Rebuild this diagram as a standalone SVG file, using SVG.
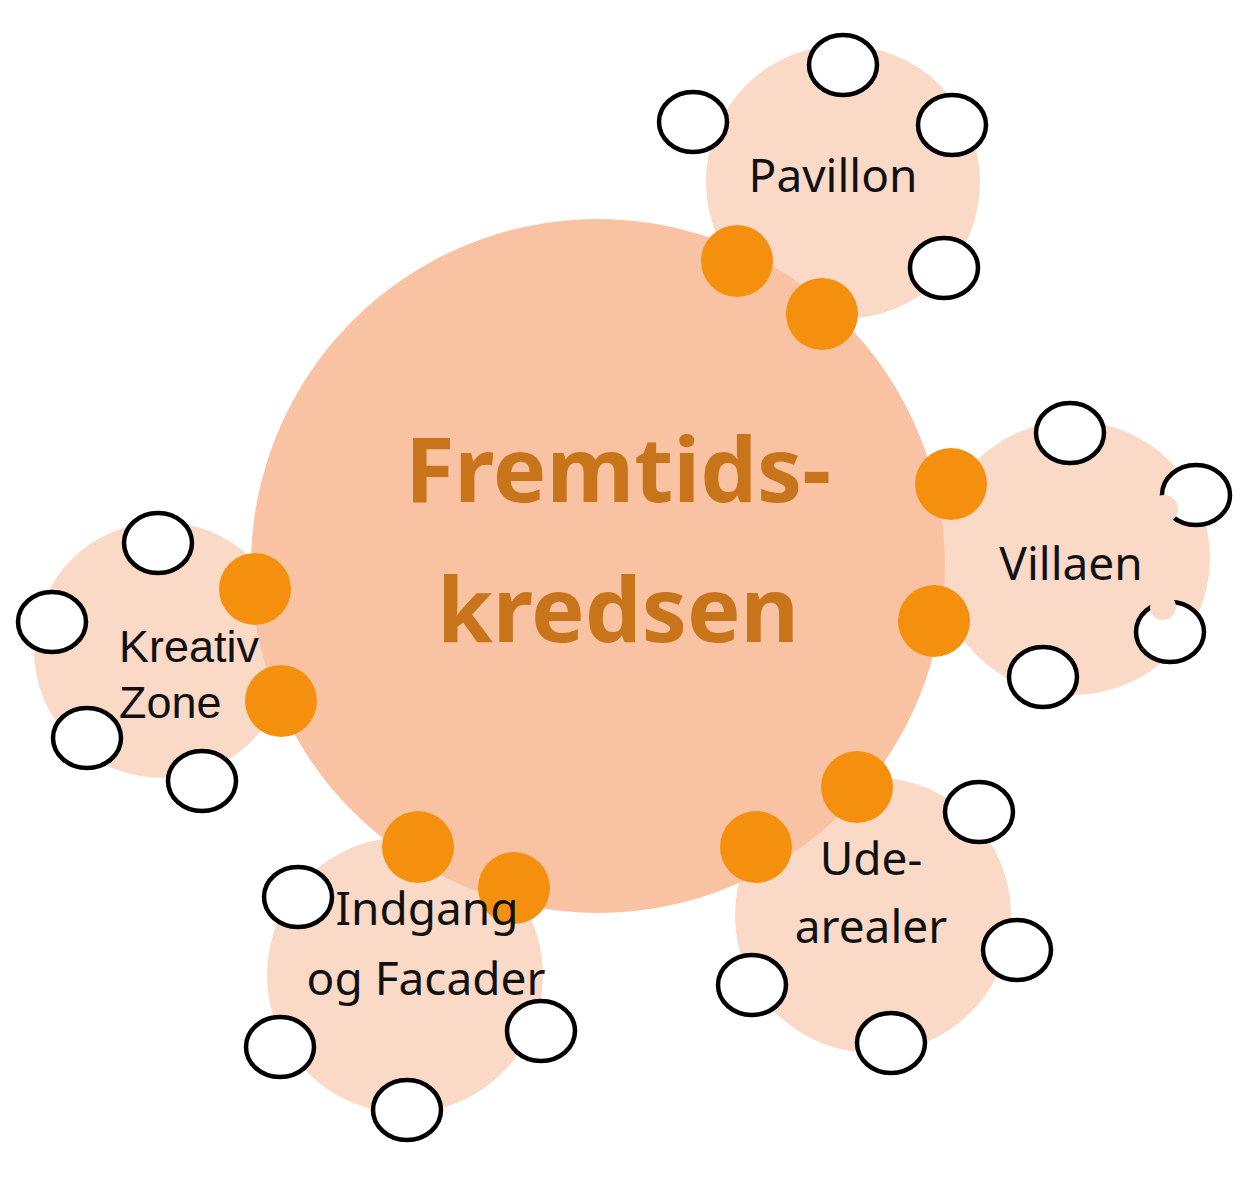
<svg xmlns="http://www.w3.org/2000/svg" width="1255" height="1181" viewBox="0 0 1255 1181">
<style>
.sub{fill:#FBD9C7}
.main{fill:#F9C3A3}
.dot{fill:#F5900F}
.ring{fill:#FFFFFF;stroke:#000;stroke-width:4.5}
.lbl{font-family:"Noto Sans","Open Sans",sans-serif;font-size:46px;fill:#111;text-anchor:middle}
.lbla{font-family:"Liberation Sans",Arial,sans-serif;font-size:45px;fill:#111}
.title{font-family:"Noto Sans","Open Sans",sans-serif;font-weight:bold;font-size:90px;fill:#C8741A;text-anchor:middle}
</style>
<rect width="1255" height="1181" fill="#FFFFFF"/>
<g id="sub-circles">
<circle class="sub" cx="843" cy="182" r="137"/>
<circle class="sub" cx="1073" cy="558" r="137"/>
<circle class="sub" cx="162" cy="650" r="128"/>
<circle class="sub" cx="405" cy="975" r="138"/>
<circle class="sub" cx="873" cy="915" r="138"/>
</g>
<g id="node-fremtidskredsen">
<circle class="main" cx="598" cy="566" r="347"/>
<text class="title" x="618" y="502">Fremtids-</text>
<text class="title" x="618" y="642">kredsen</text>
</g>
<g id="node-pavillon">
<ellipse class="ring" cx="843" cy="65" rx="34" ry="30"/>
<ellipse class="ring" cx="693" cy="122" rx="34" ry="30"/>
<ellipse class="ring" cx="952" cy="125" rx="34" ry="30"/>
<ellipse class="ring" cx="944" cy="268" rx="34" ry="30"/>
<circle class="dot" cx="737" cy="261" r="36"/>
<circle class="dot" cx="822" cy="314" r="36"/>
<text class="lbl" x="833" y="192">Pavillon</text>
</g>
<g id="node-villaen">
<ellipse class="ring" cx="1070" cy="433" rx="34" ry="30"/>
<ellipse class="ring" cx="1196" cy="495" rx="34" ry="30"/>
<ellipse class="ring" cx="1170" cy="632" rx="34" ry="30"/>
<ellipse class="ring" cx="1043" cy="677" rx="34" ry="30"/>
<circle class="sub" cx="1164" cy="509" r="14"/>
<circle class="sub" cx="1163" cy="607" r="13"/>
<circle class="dot" cx="951" cy="484" r="36"/>
<circle class="dot" cx="934" cy="621" r="36"/>
<text class="lbl" x="1071" y="580">Villaen</text>
</g>
<g id="node-kreativ-zone">
<ellipse class="ring" cx="158" cy="543" rx="34" ry="30"/>
<ellipse class="ring" cx="52" cy="622" rx="34" ry="30"/>
<ellipse class="ring" cx="87" cy="738" rx="34" ry="30"/>
<ellipse class="ring" cx="202" cy="781" rx="34" ry="30"/>
<circle class="dot" cx="255" cy="589" r="36"/>
<circle class="dot" cx="281" cy="701" r="36"/>
<text class="lbla" x="119" y="662">Kreativ</text>
<text class="lbla" x="119" y="718">Zone</text>
</g>
<g id="node-indgang">
<ellipse class="ring" cx="298" cy="897" rx="34" ry="30"/>
<ellipse class="ring" cx="280" cy="1047" rx="34" ry="30"/>
<ellipse class="ring" cx="541" cy="1031" rx="34" ry="30"/>
<ellipse class="ring" cx="407" cy="1110" rx="34" ry="30"/>
<circle class="dot" cx="418" cy="847" r="36"/>
<circle class="dot" cx="514" cy="888" r="36"/>
<text class="lbl" x="427" y="925">Indgang</text>
<text class="lbl" x="426" y="995">og Facader</text>
</g>
<g id="node-udearealer">
<ellipse class="ring" cx="979" cy="812" rx="34" ry="30"/>
<ellipse class="ring" cx="1017" cy="950" rx="34" ry="30"/>
<ellipse class="ring" cx="752" cy="985" rx="34" ry="30"/>
<ellipse class="ring" cx="891" cy="1043" rx="34" ry="30"/>
<circle class="dot" cx="857" cy="787" r="36"/>
<circle class="dot" cx="756" cy="847" r="36"/>
<text class="lbl" x="871" y="875">Ude-</text>
<text class="lbl" x="871" y="943">arealer</text>
</g>
<g id="connectors"/>
</svg>
